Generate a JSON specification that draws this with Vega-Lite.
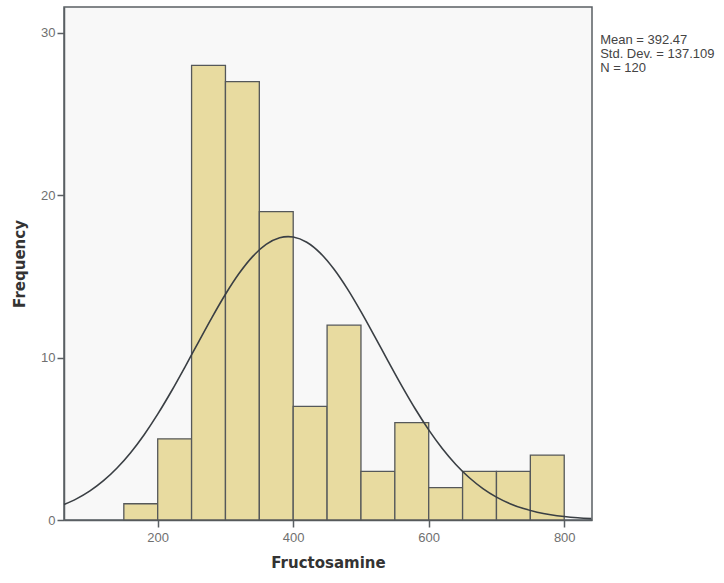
{
  "$schema": "https://vega.github.io/schema/vega-lite/v6.json",
  "autosize": {"type": "none"},
  "padding": {"left": 64, "top": 7, "right": 132, "bottom": 63},
  "width": 528,
  "height": 513,
  "background": "#ffffff",
  "config": {
    "view": {"fill": "#f8f8f8", "stroke": "#5a5f63", "strokeWidth": 1.5},
    "font": "Liberation Sans",
    "axis": {
      "domainColor": "#5a5f63", "domainWidth": 1.5, "tickColor": "#5a5f63", "tickWidth": 1.5, "tickSize": 7,
      "labelColor": "#707070", "labelFontSize": 13, "grid": false,
      "titleColor": "#333333", "titleFontSize": 15, "titleFontWeight": "bold", "titleFont": "DejaVu Sans"
    }
  },
  "datasets": {
    "bins": [
      {"start": 150, "end": 200, "count": 1},
      {"start": 200, "end": 250, "count": 5},
      {"start": 250, "end": 300, "count": 28},
      {"start": 300, "end": 350, "count": 27},
      {"start": 350, "end": 400, "count": 19},
      {"start": 400, "end": 450, "count": 7},
      {"start": 450, "end": 500, "count": 12},
      {"start": 500, "end": 550, "count": 3},
      {"start": 550, "end": 600, "count": 6},
      {"start": 600, "end": 650, "count": 2},
      {"start": 650, "end": 700, "count": 3},
      {"start": 700, "end": 750, "count": 3},
      {"start": 750, "end": 800, "count": 4}
    ],
    "curve": [
      {"x": 61.7, "y": 0.951}, {"x": 80, "y": 1.301}, {"x": 100, "y": 1.795}, {"x": 120, "y": 2.424},
      {"x": 140, "y": 3.205}, {"x": 160, "y": 4.147}, {"x": 180, "y": 5.255}, {"x": 200, "y": 6.518},
      {"x": 220, "y": 7.914}, {"x": 240, "y": 9.407}, {"x": 260, "y": 10.947}, {"x": 280, "y": 12.471},
      {"x": 300, "y": 13.907}, {"x": 320, "y": 15.182}, {"x": 340, "y": 16.225}, {"x": 360, "y": 16.975},
      {"x": 380, "y": 17.386}, {"x": 392.47, "y": 17.458}, {"x": 400, "y": 17.432}, {"x": 420, "y": 17.110},
      {"x": 440, "y": 16.440}, {"x": 460, "y": 15.464}, {"x": 480, "y": 14.240}, {"x": 500, "y": 12.836},
      {"x": 520, "y": 11.328}, {"x": 540, "y": 9.786}, {"x": 560, "y": 8.276}, {"x": 580, "y": 6.851},
      {"x": 600, "y": 5.553}, {"x": 620, "y": 4.405}, {"x": 640, "y": 3.422}, {"x": 660, "y": 2.602},
      {"x": 680, "y": 1.937}, {"x": 700, "y": 1.411}, {"x": 720, "y": 1.007}, {"x": 740, "y": 0.703},
      {"x": 760, "y": 0.480}, {"x": 780, "y": 0.322}, {"x": 800, "y": 0.211}, {"x": 820, "y": 0.135},
      {"x": 840, "y": 0.085}
    ],
    "stats": [
      {"label": "Mean = 392.47", "x": 853, "y": 29.57},
      {"label": "Std. Dev. = 137.109", "x": 853, "y": 28.71},
      {"label": "N = 120", "x": 853, "y": 27.85}
    ]
  },
  "layer": [
    {
      "data": {"name": "bins"},
      "mark": {"type": "rect", "fill": "#e8dba0", "stroke": "#55585a", "strokeWidth": 1.3},
      "encoding": {
        "x": {"field": "start", "type": "quantitative",
              "scale": {"domain": [61.7, 841], "nice": false, "zero": false},
              "axis": {"values": [200, 400, 600, 800], "title": "Fructosamine", "titlePadding": 11, "labelPadding": 4}},
        "x2": {"field": "end"},
        "y": {"field": "count", "type": "quantitative",
              "scale": {"domain": [0, 31.6], "nice": false},
              "axis": {"values": [0, 10, 20, 30], "title": "Frequency", "titlePadding": 13, "labelPadding": 2}},
        "y2": {"datum": 0}
      }
    },
    {
      "data": {"name": "curve"},
      "mark": {"type": "line", "color": "#3a3f44", "strokeWidth": 1.6, "interpolate": "monotone"},
      "encoding": {
        "x": {"field": "x", "type": "quantitative"},
        "y": {"field": "y", "type": "quantitative"}
      }
    },
    {
      "data": {"name": "stats"},
      "mark": {"type": "text", "align": "left", "baseline": "middle", "fontSize": 13, "color": "#444444", "clip": false, "font": "Liberation Sans"},
      "encoding": {
        "x": {"field": "x", "type": "quantitative"},
        "y": {"field": "y", "type": "quantitative"},
        "text": {"field": "label"}
      }
    }
  ]
}
